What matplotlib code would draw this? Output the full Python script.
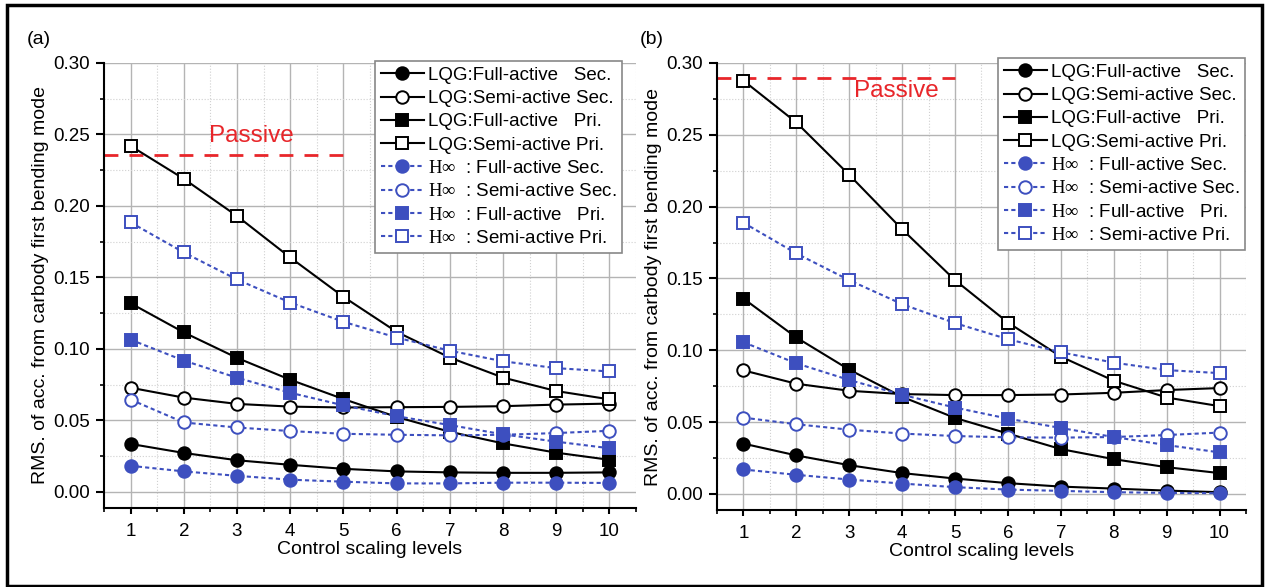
import matplotlib
matplotlib.use("Agg")
import matplotlib.pyplot as plt
from matplotlib.patches import Rectangle
from matplotlib.ticker import MultipleLocator, FormatStrFormatter

levels = [1, 2, 3, 4, 5, 6, 7, 8, 9, 10]

# Panel (a)
a_lqg_full_sec = [0.0336, 0.0273, 0.0222, 0.0190, 0.0162, 0.0144, 0.0137, 0.0134, 0.0134, 0.0137]
a_lqg_semi_sec = [0.0729, 0.0660, 0.0616, 0.0597, 0.0591, 0.0593, 0.0595, 0.0600, 0.0611, 0.0618]
a_lqg_full_pri = [0.1320, 0.1116, 0.0938, 0.0785, 0.0650, 0.0525, 0.0421, 0.0340, 0.0275, 0.0225]
a_lqg_semi_pri = [0.2420, 0.2190, 0.1930, 0.1640, 0.1365, 0.1120, 0.0940, 0.0800, 0.0706, 0.0648]
a_hinf_full_sec = [0.0183, 0.0144, 0.0113, 0.0086, 0.0072, 0.0060, 0.0060, 0.0065, 0.0065, 0.0063]
a_hinf_semi_sec = [0.0646, 0.0486, 0.0451, 0.0426, 0.0407, 0.0400, 0.0396, 0.0400, 0.0412, 0.0428]
a_hinf_full_pri = [0.1065, 0.0919, 0.0799, 0.0694, 0.0606, 0.0530, 0.0468, 0.0403, 0.0352, 0.0306]
a_hinf_semi_pri = [0.1885, 0.1675, 0.1486, 0.1325, 0.1190, 0.1080, 0.0988, 0.0914, 0.0866, 0.0843]
a_passive = 0.236

# Panel (b)
b_lqg_full_sec = [0.0350, 0.0268, 0.0200, 0.0145, 0.0107, 0.0075, 0.0051, 0.0037, 0.0023, 0.0012]
b_lqg_semi_sec = [0.0860, 0.0767, 0.0718, 0.0695, 0.0688, 0.0688, 0.0692, 0.0704, 0.0723, 0.0737]
b_lqg_full_pri = [0.1360, 0.1089, 0.0865, 0.0676, 0.0529, 0.0420, 0.0312, 0.0242, 0.0186, 0.0145]
b_lqg_semi_pri = [0.2877, 0.2586, 0.2221, 0.1842, 0.1488, 0.1193, 0.0956, 0.0788, 0.0671, 0.0611]
b_hinf_full_sec = [0.0170, 0.0133, 0.0100, 0.0072, 0.0047, 0.0030, 0.0021, 0.0012, 0.0007, 0.0005]
b_hinf_semi_sec = [0.0531, 0.0485, 0.0447, 0.0420, 0.0403, 0.0394, 0.0392, 0.0396, 0.0410, 0.0427]
b_hinf_full_pri = [0.1056, 0.0909, 0.0793, 0.0690, 0.0601, 0.0524, 0.0459, 0.0396, 0.0340, 0.0289]
b_hinf_semi_pri = [0.1888, 0.1674, 0.1488, 0.1321, 0.1189, 0.1077, 0.0986, 0.0914, 0.0862, 0.0841]
b_passive = 0.2893

labels = [
    "LQG:Full-active   Sec.",
    "LQG:Semi-active Sec.",
    "LQG:Full-active   Pri.",
    "LQG:Semi-active Pri.",
    r"$\mathrm{H}\infty$  : Full-active Sec.",
    r"$\mathrm{H}\infty$  : Semi-active Sec.",
    r"$\mathrm{H}\infty$  : Full-active   Pri.",
    r"$\mathrm{H}\infty$  : Semi-active Pri.",
]

plt.rcParams['font.family'] = ['Liberation Sans', 'DejaVu Sans']
plt.rcParams['mathtext.fontset'] = 'custom'
plt.rcParams['mathtext.rm'] = 'Liberation Serif'
plt.rcParams['mathtext.it'] = 'Liberation Serif:italic'

W, H = 1271, 587
fig = plt.figure(figsize=(W / 100, H / 100), dpi=100)

BLUE = '#3d4fbf'
RED = '#e8262a'

def make_axes(rect, series, passive, passive_end, ptxt, legend_corner):
    l, r, t, b = rect
    ax = fig.add_axes([l / W, 1 - b / H, (r - l) / W, (b - t) / H])
    styles = [
        ('k', '-', 'o', 'k'),
        ('k', '-', 'o', 'white'),
        ('k', '-', 's', 'k'),
        ('k', '-', 's', 'white'),
        (BLUE, (0, (2, 1.5)), 'o', BLUE),
        (BLUE, (0, (2, 1.5)), 'o', 'white'),
        (BLUE, (0, (2, 1.5)), 's', BLUE),
        (BLUE, (0, (2, 1.5)), 's', 'white'),
    ]
    handles = []
    for vals, (c, ls, m, fc), lab in zip(series, styles, labels):
        ms = 9 if m == 'o' else 8
        h, = ax.plot(levels, vals, color=c, linestyle=ls, lw=1.5, marker=m,
                     markersize=ms, markerfacecolor=fc, markeredgecolor=c,
                     markeredgewidth=1.4, label=lab, zorder=3)
        handles.append(h)
    ax.plot([0.5, passive_end], [passive, passive], color=RED, lw=2,
            linestyle=(0, (5, 4)), zorder=2)
    ax.text(ptxt[0], ptxt[1], 'Passive', color=RED, fontsize=17.5,
            ha='center', va='center')
    ax.set_xlim(0.5, 10.5)
    ax.set_ylim(-0.0112, 0.30)
    ax.xaxis.set_major_locator(MultipleLocator(1))
    ax.xaxis.set_minor_locator(MultipleLocator(0.5))
    ax.yaxis.set_major_locator(MultipleLocator(0.05))
    ax.yaxis.set_minor_locator(MultipleLocator(0.025))
    ax.yaxis.set_major_formatter(FormatStrFormatter('%.2f'))
    ax.grid(True, which='major', color='#b4b4b4', lw=1.0, zorder=0)
    ax.grid(True, which='minor', color='#d0d0d0', lw=0.8, linestyle=':', zorder=0)
    ax.set_axisbelow(True)
    for s in ('top', 'right'):
        ax.spines[s].set_visible(False)
    for s in ('left', 'bottom'):
        ax.spines[s].set_linewidth(1.5)
    ax.tick_params(which='major', direction='out', width=1.5, labelsize=13.5)
    ax.tick_params(axis='y', which='major', length=6, pad=4)
    ax.tick_params(axis='x', which='major', length=4.5, pad=6)
    ax.tick_params(which='minor', direction='out', length=3, width=1.2)
    ax.set_xlabel('Control scaling levels', fontsize=14, labelpad=1)
    ax.set_ylabel('RMS. of acc. from carbody first bending mode', fontsize=14, labelpad=3)
    lx, ly = legend_corner
    leg = ax.legend(handles=handles, loc='upper right',
                    bbox_to_anchor=(lx / W, 1 - ly / H), bbox_transform=fig.transFigure,
                    fontsize=13.5, frameon=True, fancybox=False, framealpha=1,
                    edgecolor='#888888', handlelength=2.3, handletextpad=0.2,
                    labelspacing=0.33, borderpad=0.3, borderaxespad=0)
    leg.get_frame().set_linewidth(1.2)
    return ax

make_axes((104, 636, 63, 508),
          [a_lqg_full_sec, a_lqg_semi_sec, a_lqg_full_pri, a_lqg_semi_pri,
           a_hinf_full_sec, a_hinf_semi_sec, a_hinf_full_pri, a_hinf_semi_pri],
          a_passive, 5.2, (3.27, 0.249), (622, 61))
make_axes((717, 1246, 63, 510),
          [b_lqg_full_sec, b_lqg_semi_sec, b_lqg_full_pri, b_lqg_semi_pri,
           b_hinf_full_sec, b_hinf_semi_sec, b_hinf_full_pri, b_hinf_semi_pri],
          b_passive, 5.0, (3.9, 0.2802), (1245, 58))

fig.text(27 / W, 1 - 40 / H, '(a)', fontsize=14, ha='left', va='center')
fig.text(640 / W, 1 - 40 / H, '(b)', fontsize=14, ha='left', va='center')

fig.patches.append(Rectangle((7 / W, 1 / H), (1262 - 7) / W, (582 - 1) / H,
                             transform=fig.transFigure, fill=False,
                             edgecolor='k', lw=2.5))

fig.savefig('out.png', dpi=100)
